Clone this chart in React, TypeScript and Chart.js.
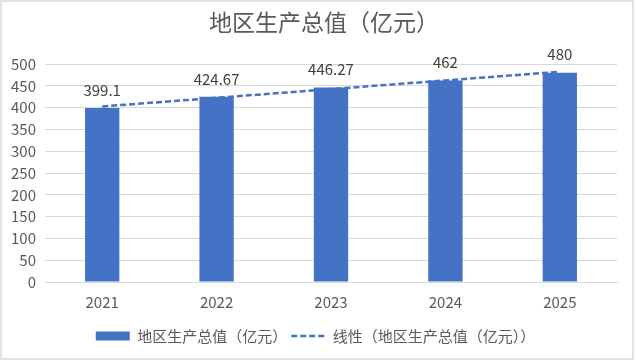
import React, { useEffect, useRef } from "react";
import { Chart, registerables } from "chart.js";

Chart.register(...registerables);

const categories = ["2021", "2022", "2023", "2024", "2025"];
const gdpValues = [399.1, 424.67, 446.27, 462, 480];
const trendValues = [402.58, 422.5, 442.41, 462.32, 482.23];
const yTicks = [0, 50, 100, 150, 200, 250, 300, 350, 400, 450, 500];
const titleText = "地区生产总值（亿元）";
const barLabel = "地区生产总值（亿元）";
const trendLabel = "线性（地区生产总值（亿元））";

const FONT = "'Noto Sans CJK SC', 'Noto Sans', sans-serif";
const BLUE = "#4472C4";
const TREND_DASH = [6, 3];
const TREND_WIDTH = 2.5;

export default function App() {
  const ref = useRef<HTMLCanvasElement | null>(null);

  useEffect(() => {
    document.body.style.margin = "0";
    const canvas = ref.current;
    if (!canvas) return;

    const borderPlugin = {
      id: "frame",
      beforeDraw(chart: any) {
        const ctx = chart.ctx;
        ctx.save();
        ctx.fillStyle = "#ffffff";
        ctx.fillRect(0, 0, chart.width, chart.height);
        ctx.strokeStyle = "#D9D9D9";
        ctx.lineWidth = 1.5;
        ctx.strokeRect(1, 1, 632, 358);
        ctx.restore();
      },
    };

    const shiftBoxes = {
      id: "shiftBoxes",
      afterLayout(chart: any) {
        const lg = chart.legend;
        if (lg) {
          lg.left += 7;
          lg.right += 7;
        }
        const tb = chart.titleBlock;
        if (tb) {
          tb.left += 15.5;
          tb.right += 15.5;
        }
      },
    };

    const valueLabels = {
      id: "valueLabels",
      afterDatasetsDraw(chart: any) {
        const ctx = chart.ctx;
        const meta = chart.getDatasetMeta(0);
        ctx.save();
        ctx.font = `15px ${FONT}`;
        ctx.fillStyle = "#404040";
        ctx.textAlign = "center";
        ctx.textBaseline = "middle";
        meta.data.forEach((el: any, i: number) => {
          ctx.fillText(String(gdpValues[i]), el.x, el.y - 18);
        });
        ctx.restore();
      },
    };

    const baseGenerate = (Chart.defaults as any).plugins.legend.labels.generateLabels;

    const chart = new Chart(canvas, {
      type: "bar",
      data: {
        labels: categories,
        datasets: [
          {
            type: "bar",
            label: barLabel,
            data: gdpValues,
            backgroundColor: BLUE,
            borderWidth: 0,
            barPercentage: 0.3,
            categoryPercentage: 1,
            pointStyle: "rect",
            order: 2,
          } as any,
          {
            type: "line",
            label: trendLabel,
            data: trendValues,
            borderColor: BLUE,
            backgroundColor: BLUE,
            borderWidth: TREND_WIDTH,
            borderDash: TREND_DASH,
            pointRadius: 0,
            pointStyle: "line",
            fill: false,
            tension: 0,
            order: 1,
          } as any,
        ],
      },
      options: {
        animation: false,
        responsive: false,
        maintainAspectRatio: false,
        layout: { padding: { top: 8, right: 19, bottom: 8.5, left: 0 } },
        plugins: {
          title: {
            display: true,
            text: titleText,
            color: "#595959",
            font: { family: FONT, size: 23, weight: "normal" },
            padding: { top: 0, bottom: 28.4 },
          },
          legend: {
            display: true,
            position: "bottom",
            labels: {
              usePointStyle: true,
              pointStyleWidth: 34,
              boxHeight: 9,
              padding: 4,
              color: "#595959",
              font: { family: FONT, size: 15 },
              sort: (a: any, b: any) => a.datasetIndex - b.datasetIndex,
              generateLabels(c: any) {
                const items = baseGenerate(c);
                return items.map((it: any) => {
                  if (it.datasetIndex === 1) {
                    return {
                      ...it,
                      lineDash: TREND_DASH,
                      lineWidth: TREND_WIDTH,
                      strokeStyle: BLUE,
                      pointStyle: "line",
                    };
                  }
                  return { ...it, pointStyle: "rect", lineWidth: 0, fillStyle: BLUE };
                });
              },
            },
          },
          tooltip: { enabled: false },
        },
        scales: {
          x: {
            grid: { display: false, drawTicks: false },
            border: { display: true, color: "#D9D9D9", width: 1 },
            ticks: {
              color: "#595959",
              font: { family: FONT, size: 15 },
              padding: 11,
            },
            afterFit(s: any) {
              s.height = 42.5;
            },
          },
          y: {
            min: 0,
            max: 500,
            afterBuildTicks(s: any) {
              s.ticks = yTicks.map((v) => ({ value: v }));
            },
            grid: { color: "#D9D9D9", lineWidth: 1, drawTicks: false },
            border: { display: false },
            ticks: {
              color: "#595959",
              font: { family: FONT, size: 15 },
              padding: 9,
            },
            afterFit(s: any) {
              s.width = 45;
            },
          },
        },
      },
      plugins: [borderPlugin, shiftBoxes, valueLabels],
    });

    return () => chart.destroy();
  }, []);

  return (
    <div style={{ width: 636, height: 362 }}>
      <canvas ref={ref} width={636} height={362} style={{ display: "block", width: 636, height: 362 }} />
    </div>
  );
}
